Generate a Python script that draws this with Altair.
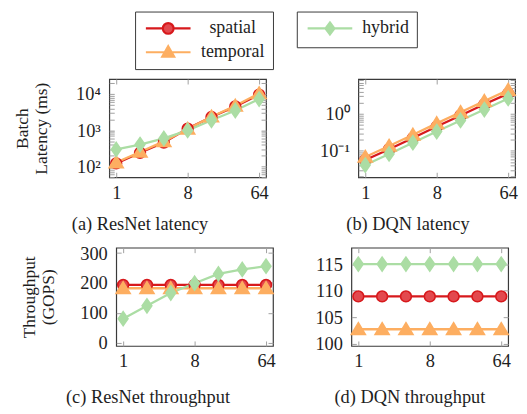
import altair as alt
import pandas as pd

FONT = "Liberation Serif"
TEXT = "#1e1e1e"
FRAME = "#3a3a3a"
TICK = "#a0a0a0"

batch = [1, 2, 4, 8, 16, 32, 64]
series = ["spatial", "temporal", "hybrid"]

# (a) ResNet latency (ms)
resnet_lat_spatial = [121, 237, 455, 1100, 2300, 4500, 9500]
resnet_lat_temporal = [128, 250, 490, 1080, 2350, 4700, 10300]
resnet_lat_hybrid = [293, 400, 590, 980, 1870, 3480, 7200]
# (b) DQN latency (ms)
dqn_lat_spatial = [0.056, 0.11, 0.22, 0.45, 0.9, 1.8, 3.5]
dqn_lat_temporal = [0.068, 0.135, 0.27, 0.55, 1.1, 2.2, 4.4]
dqn_lat_hybrid = [0.041, 0.082, 0.165, 0.33, 0.66, 1.3, 2.6]
# (c) ResNet throughput (GOPS)
resnet_tp_spatial = [193, 193, 193, 193, 193, 193, 193]
resnet_tp_temporal = [182, 182, 182, 182, 182, 182, 182]
resnet_tp_hybrid = [80, 123, 166, 199, 230, 245, 256]
# (d) DQN throughput (GOPS)
dqn_tp_spatial = [108.9, 108.9, 108.9, 108.9, 108.9, 108.9, 108.9]
dqn_tp_temporal = [102.7, 102.7, 102.7, 102.7, 102.7, 102.7, 102.7]
dqn_tp_hybrid = [115.0, 115.0, 115.0, 115.0, 115.0, 115.0, 115.0]

x_ticks = [1, 8, 64]
resnet_lat_ticks = [50, 60, 70, 80, 90, 100, 200, 300, 400, 500, 600, 700, 800, 900,
                    1000, 2000, 3000, 4000, 5000, 6000, 7000, 8000, 9000, 10000, 20000]
dqn_lat_ticks = [0.02, 0.03, 0.04, 0.05, 0.06, 0.07, 0.08, 0.09, 0.1, 0.2, 0.3, 0.4,
                 0.5, 0.6, 0.7, 0.8, 0.9, 1, 2, 3, 4, 5, 6, 7, 8]
resnet_tp_ticks = [0, 100, 200, 300]
dqn_tp_ticks = [100, 105, 110, 115]

line_colors = ["#d7191c", "#fdae61", "#abdda4"]
fill_colors = ["#e3494e", "#fdae61", "#abdda4"]
plot_shapes = ["circle", "M0,-1.2L1.3,0.95L-1.3,0.95Z", "M0,-1.3L0.9,0L0,1.3L-0.9,0Z"]
legend_shapes = [
    "M-4.5,0H-1.08M1.08,0H4.5M1.08,0A1.08,1.08,0,1,1,-1.08,0A1.08,1.08,0,1,1,1.08,0Z",
    "M-4.5,0H-0.6M0.6,0H4.5M0,-1.2L1.2,0.9L-1.2,0.9Z",
    "M-4.5,0H-0.9M0.9,0H4.5M0,-1.2L0.9,0L0,1.2L-0.9,0Z",
]

XDOM = [0.817, 78.3]
W, H = 158, 99

POW_EXPR = ("abs(log(datum.value)/LN10 - round(log(datum.value)/LN10)) < 0.000001 ? "
            "('10' + (round(log(datum.value)/LN10) < 0 ? '\u207b' : '') + "
            "['\u2070','\u00b9','\u00b2','\u00b3','\u2074','\u2075'][abs(round(log(datum.value)/LN10))]) : ''")


def long_df(s, t, h):
    rows = []
    for name, vals in zip(series, [s, t, h]):
        for b, v in zip(batch, vals):
            rows.append({"batch": b, "value": v, "series": name})
    return pd.DataFrame(rows)


def legend_layer(names, lx, ly, loff):
    idx = [series.index(n) for n in names]
    leg = alt.Legend(orient="none", legendX=lx, legendY=ly, title=None, direction="vertical",
                     symbolSize=100, symbolStrokeWidth=2.2, symbolOpacity=1, symbolOffset=16.4,
                     labelFont=FONT, labelFontSize=18, labelColor=TEXT, labelAlign="center",
                     labelOffset=loff, rowPadding=3, padding=8, strokeColor=FRAME,
                     fillColor="white", labelLimit=0)
    return alt.Chart(pd.DataFrame({"series": names})).mark_point(filled=True, opacity=0, size=10).encode(
        fill=alt.Fill("series:N", scale=alt.Scale(domain=names, range=[fill_colors[i] for i in idx]), legend=leg),
        stroke=alt.Stroke("series:N", scale=alt.Scale(domain=names, range=[line_colors[i] for i in idx]), legend=leg),
        shape=alt.Shape("series:N", scale=alt.Scale(domain=names, range=[legend_shapes[i] for i in idx]), legend=leg),
    )


def panel(df, ydom, ylog, yticks, ytitle, caption, dx, cap_offset, legends=()):
    xs = alt.Scale(type="log", base=2, domain=XDOM, nice=False)
    if ylog:
        ys = alt.Scale(type="log", domain=ydom, nice=False)
        lab = dict(labelExpr=POW_EXPR)
    else:
        ys = alt.Scale(type="linear", domain=ydom, nice=False, zero=False)
        lab = dict(format="d")
    common = dict(offset=-5, tickSize=5, domain=False, grid=False, labelFlush=False, labelOverlap=False)
    yleft_kw = dict(orient="left", values=yticks, labelPadding=9, **common, **lab)
    if ytitle:
        yleft_kw.update(title=ytitle, titleX=-87, titleY=H / 2, titleAngle=270, titleAlign="center",
                        titleBaseline="alphabetic", titleLineHeight=19, titleFontSize=17.5)
    else:
        yleft_kw.update(title=None)
    line = alt.Chart(df).mark_line(strokeWidth=2.3).encode(
        x=alt.X("batch:Q", scale=xs, axis=alt.Axis(orient="bottom", values=x_ticks, title=None,
                                                    labelPadding=6, format="d", **common)),
        y=alt.Y("value:Q", scale=ys, axis=alt.Axis(**yleft_kw)),
        color=alt.Color("series:N", scale=alt.Scale(domain=series, range=line_colors), legend=None),
    )
    pts = alt.Chart(df).mark_point(filled=True, opacity=1, size=118, strokeWidth=1.6).encode(
        x=alt.X("batch:Q", scale=xs, axis=alt.Axis(orient="top", values=x_ticks, title=None,
                                                    labels=False, **common)),
        y=alt.Y("value:Q", scale=ys, axis=alt.Axis(orient="right", values=yticks, title=None,
                                                    labels=False, **common)),
        fill=alt.Fill("series:N", scale=alt.Scale(domain=series, range=fill_colors), legend=None),
        stroke=alt.Stroke("series:N", scale=alt.Scale(domain=series, range=line_colors), legend=None),
        shape=alt.Shape("series:N", scale=alt.Scale(domain=series, range=plot_shapes), legend=None),
    )
    layers = [line, pts] + [legend_layer(*l) for l in legends]
    ch = alt.layer(*layers).resolve_scale(
        color="independent", fill="independent", stroke="independent", shape="independent"
    ).resolve_axis(x="independent", y="independent").resolve_legend(
        fill="independent", stroke="independent", shape="independent"
    ).properties(
        width=W, height=H,
        title=alt.TitleParams(text=caption, orient="bottom", anchor="middle", frame="group",
                              dx=dx, offset=cap_offset, font=FONT, fontSize=18.5,
                              fontWeight="normal", color=TEXT),
    )
    return ch


pa = panel(long_df(resnet_lat_spatial, resnet_lat_temporal, resnet_lat_hybrid), [50, 25800], True,
           resnet_lat_ticks, ["Batch", "Latency (ms)"], "(a) ResNet latency", -48, 14,
           legends=[(["spatial", "temporal"], 26, -68, 56), (["hybrid"], 189, -68, 47)])
pb = panel(long_df(dqn_lat_spatial, dqn_lat_temporal, dqn_lat_hybrid), [0.0192, 8.7], True,
           dqn_lat_ticks, None, "(b) DQN latency", -29, 14)
pc = panel(long_df(resnet_tp_spatial, resnet_tp_temporal, resnet_tp_hybrid), [-11.3, 318], False,
           resnet_tp_ticks, ["Throughput", "(GOPS)"], "(c) ResNet throughput", -47, 18)
pd_ = panel(long_df(dqn_tp_spatial, dqn_tp_temporal, dqn_tp_hybrid), [99.55, 118.1], False,
            dqn_tp_ticks, None, "(d) DQN throughput", -20, 18)

row1 = alt.hconcat(pa, pb, spacing=93, bounds="flush")
row2 = alt.hconcat(pc, pd_, spacing=79, bounds="flush")

chart = alt.vconcat(row1, row2, spacing=8, center=True).properties(
    padding={"left": 5, "top": 0, "right": 0, "bottom": 0},
    background="white",
).configure_view(
    stroke=FRAME, strokeWidth=1.2
).configure_axis(
    labelFont=FONT, labelFontSize=18.5, labelColor=TEXT,
    titleFont=FONT, titleFontSize=17.5, titleFontWeight="normal", titleColor=TEXT,
    tickColor=TICK, tickWidth=1,
).configure_legend(
    labelFont=FONT, labelFontSize=18, labelColor=TEXT,
)

chart.save("out.html", embed_options={"renderer": "svg", "actions": False})
